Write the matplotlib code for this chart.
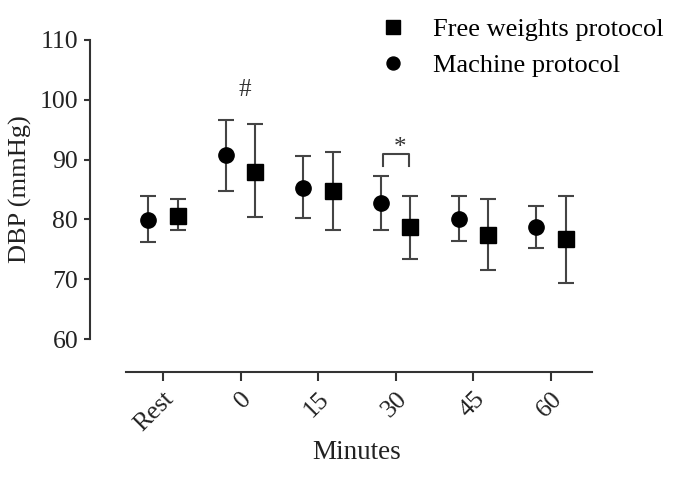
import matplotlib.pyplot as plt
import numpy as np

plt.rcParams['font.family'] = ['Liberation Serif', 'DejaVu Serif']

# data (mean, upper bar, lower bar)
timepoints = ["Rest", "0", "15", "30", "45", "60"]
machine_mean = [79.9, 90.8, 85.3, 82.7, 80.1, 78.7]
machine_hi = [84.0, 96.6, 90.6, 87.2, 84.0, 82.3]
machine_lo = [76.3, 84.8, 80.2, 78.3, 76.4, 75.3]
free_mean = [80.6, 88.0, 84.8, 78.7, 77.4, 76.8]
free_hi = [83.5, 95.9, 91.3, 84.0, 83.4, 84.0]
free_lo = [78.3, 80.4, 78.3, 73.4, 71.5, 69.4]

x = np.arange(len(timepoints))
off = 0.19

fig = plt.figure(figsize=(6.86, 4.78), dpi=100)
ax = fig.add_axes([90 / 686, 106 / 478, (592 - 90) / 686, (372 - 40) / 478])

m_err = [np.subtract(machine_mean, machine_lo), np.subtract(machine_hi, machine_mean)]
f_err = [np.subtract(free_mean, free_lo), np.subtract(free_hi, free_mean)]

ax.errorbar(x + off, free_mean, yerr=f_err, fmt='s', color='black', ms=11.5,
            ecolor='#444444', elinewidth=1.5, capsize=6, capthick=1.5,
            label="Free weights protocol", zorder=3)
ax.errorbar(x - off, machine_mean, yerr=m_err, fmt='o', color='black', ms=11,
            ecolor='#444444', elinewidth=1.5, capsize=6, capthick=1.5,
            label="Machine protocol", zorder=3)

# significance marks
ax.text(1 + 0.05, 101.6, "#", ha='center', va='center', fontsize=18, color='#333333')
ax.plot([3 - off + 0.02, 3 - off + 0.02, 3 + off - 0.02, 3 + off - 0.02],
        [88.9, 90.9, 90.9, 88.9], color='#444444', lw=1.5)
ax.text(3 + 0.05, 92.0, "*", ha='center', va='center', fontsize=18, color='#333333')

ax.set_xlim(-0.94, 5.53)
ax.set_ylim(54.5, 110)
ax.set_yticks([60, 70, 80, 90, 100, 110])
ax.set_xticks(x)
ax.set_xticklabels(timepoints, rotation=45, ha='right', rotation_mode='anchor')

for s in ['top', 'right']:
    ax.spines[s].set_visible(False)
ax.spines['left'].set_bounds(60, 110)
ax.spines['bottom'].set_bounds(-0.48, 5.53)
for s in ['left', 'bottom']:
    ax.spines[s].set_linewidth(1.5)
    ax.spines[s].set_color('#333333')

ax.tick_params(axis='both', labelsize=18.5, width=1.5, color='#333333',
               labelcolor='#222222')
ax.tick_params(axis='x', length=6.5, pad=5)
ax.tick_params(axis='y', length=4.5, pad=4)

ax.set_xlabel("Minutes", fontsize=19.5, color='#222222')
ax.xaxis.set_label_coords((357 - 90) / 502, -0.205)
ax.set_ylabel("DBP (mmHg)", fontsize=19, color='#222222')
ax.yaxis.set_label_coords(-0.115, (372 - 189) / 332)

handles, labels = ax.get_legend_handles_labels()
leg = fig.legend([h.lines[0] for h in handles], labels,
                 loc='upper left', bbox_to_anchor=(356 / 686, 1.012), frameon=False,
                 fontsize=19, handlelength=1.0, handletextpad=1.0, labelspacing=0.45,
                 markerscale=0.85)

fig.savefig("out.png", dpi=100)
